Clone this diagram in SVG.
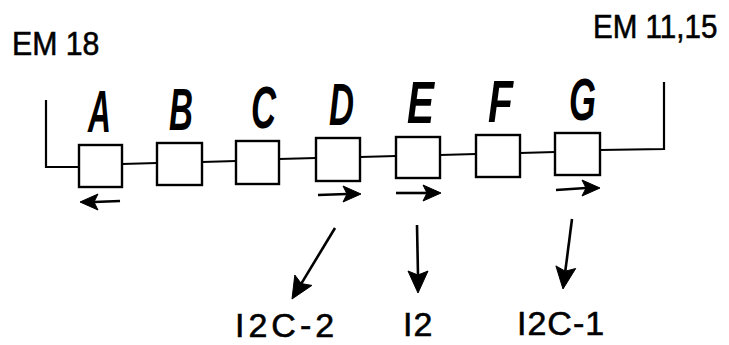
<svg xmlns="http://www.w3.org/2000/svg" width="729" height="345" viewBox="0 0 729 345">
<style>
.box{fill:#fff;stroke:#000;stroke-width:2.4}
.ln{fill:none;stroke:#000;stroke-width:2.2}
.ar{fill:none;stroke:#000;stroke-width:2.6}
.head{fill:#000;stroke:#000;stroke-width:1;stroke-linejoin:miter}
.let{font-family:"Liberation Sans",Arial,sans-serif;font-weight:bold;font-style:italic;font-size:60px;fill:#000}
.lab{font-family:"Liberation Sans",Arial,sans-serif;font-size:34px;fill:#000;stroke:#000;stroke-width:0.6}
</style>
<rect width="729" height="345" fill="#fff"/>
<g id="connectors">
<polyline class="ln" points="46,100 46,167 78,167"/>
<line class="ln" x1="122" y1="164" x2="157" y2="163"/>
<line class="ln" x1="202" y1="162" x2="236" y2="161"/>
<line class="ln" x1="279" y1="159" x2="316" y2="158"/>
<line class="ln" x1="360" y1="157" x2="396" y2="156"/>
<line class="ln" x1="440" y1="155" x2="476" y2="154"/>
<line class="ln" x1="520" y1="153" x2="555" y2="152"/>
<polyline class="ln" points="600,150 664,149 664,82"/>
<line class="ar" x1="120" y1="201" x2="94" y2="202"/>
<path class="head" d="M80,202 L98,194 L94,202 L98,210 z"/>
<line class="ar" x1="318" y1="195" x2="347" y2="194"/>
<path class="head" d="M361,194 L343,186 L347,194 L343,202 z"/>
<line class="ar" x1="396" y1="193" x2="427" y2="193"/>
<path class="head" d="M441,193 L423,185 L427,193 L423,201 z"/>
<line class="ar" x1="556" y1="190" x2="586" y2="188"/>
<path class="head" d="M600,188 L582,180 L586,188 L582,196 z"/>
<line class="ar" x1="335" y1="228" x2="301.3" y2="283.6"/>
<path class="head" d="M292,299 L294.8,275 L301.3,283.6 L311.9,285.4 z"/>
<line class="ar" x1="417" y1="225" x2="418" y2="275"/>
<path class="head" d="M418,293 L408,271 L418,275 L428,271 z"/>
<line class="ar" x1="572" y1="219" x2="565.3" y2="271.2"/>
<path class="head" d="M563,289 L555.9,265.9 L565.3,271.2 L575.7,268.5 z"/>
</g>
<g id="nodeA"><rect class="box" x="79" y="145" width="43" height="42"/><text class="let" x="88" y="132" textLength="23" lengthAdjust="spacingAndGlyphs">A</text></g>
<g id="nodeB"><rect class="box" x="157" y="143" width="45" height="42"/><text class="let" x="169" y="130" textLength="24" lengthAdjust="spacingAndGlyphs">B</text></g>
<g id="nodeC"><rect class="box" x="236" y="141" width="43" height="43"/><text class="let" x="251" y="128" textLength="25" lengthAdjust="spacingAndGlyphs">C</text></g>
<g id="nodeD"><rect class="box" x="316" y="138" width="44" height="43"/><text class="let" x="329" y="125" textLength="25" lengthAdjust="spacingAndGlyphs">D</text></g>
<g id="nodeE"><rect class="box" x="396" y="137" width="44" height="41"/><text class="let" x="407" y="123" textLength="27" lengthAdjust="spacingAndGlyphs">E</text></g>
<g id="nodeF"><rect class="box" x="476" y="135" width="44" height="42"/><text class="let" x="488" y="122" textLength="25" lengthAdjust="spacingAndGlyphs">F</text></g>
<g id="nodeG"><rect class="box" x="555" y="133" width="45" height="42"/><text class="let" x="569" y="120" textLength="27" lengthAdjust="spacingAndGlyphs">G</text></g>
<g id="labelEM18"><text class="lab" transform="translate(12,55) scale(0.89,1)">EM 18</text></g>
<g id="labelEM1115"><text class="lab" transform="translate(593,38) scale(0.87,1)">EM 11,15</text></g>
<g id="labelI2C2"><text class="lab" x="235" y="337" letter-spacing="4">I2C-2</text></g>
<g id="labelI2"><text class="lab" x="403" y="336" letter-spacing="1">I2</text></g>
<g id="labelI2C1"><text class="lab" x="517" y="335" letter-spacing="1">I2C-1</text></g>
</svg>
